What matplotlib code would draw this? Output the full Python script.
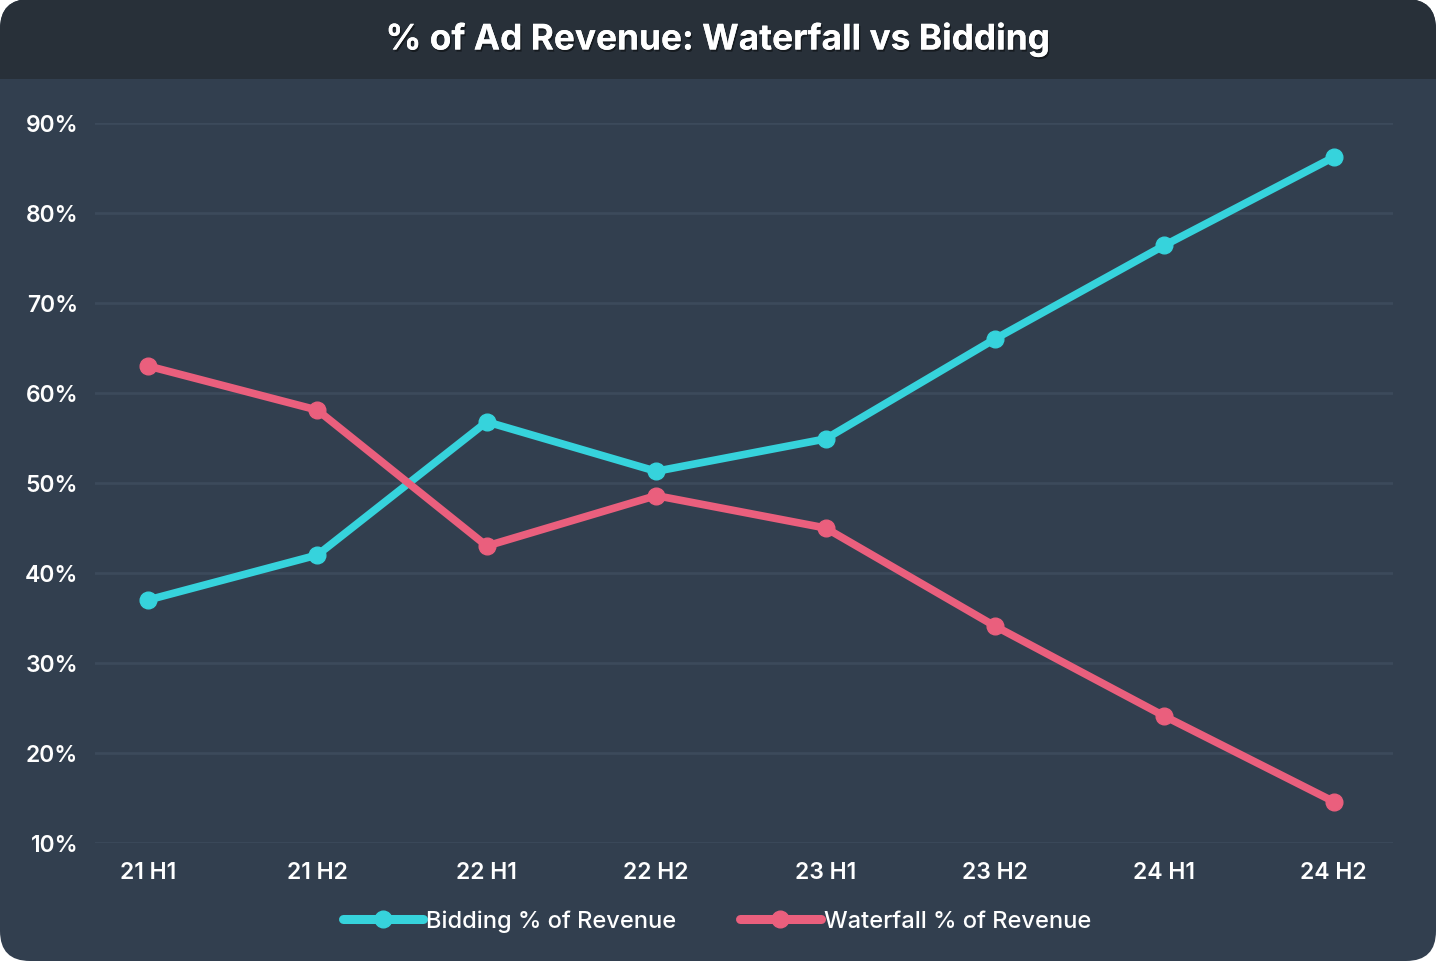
import matplotlib
matplotlib.use("Agg")
import matplotlib.pyplot as plt
from matplotlib.patches import FancyBboxPatch, Rectangle
import matplotlib.patheffects as pe

periods = ["21 H1", "21 H2", "22 H1", "22 H2", "23 H1", "23 H2", "24 H1", "24 H2"]
bidding = [37.0, 42.0, 56.8, 51.3, 54.9, 66.0, 76.4, 86.2]
waterfall = [63.0, 58.1, 43.0, 48.6, 45.0, 34.1, 24.1, 14.6]
yticks = [10, 20, 30, 40, 50, 60, 70, 80, 90]

BODY = "#323f4f"
HEAD = "#283039"
GRID = "#3c4a5b"
CYAN = "#36d3dc"
PINK = "#ea5f7d"

plt.rcParams["font.family"] = ["Inter", "DejaVu Sans"]

W, H = 1436, 962
fig = plt.figure(figsize=(W / 100, H / 100), dpi=100, facecolor="white")

# rounded card background (in inches so corners stay round)
r = 0.3
tr = fig.dpi_scale_trans
fig.patches.append(FancyBboxPatch((0, 0), W / 100, H / 100,
                                  boxstyle=f"round,pad=0,rounding_size={r}",
                                  fc=BODY, ec="none", transform=tr, zorder=-3))
fig.patches.append(FancyBboxPatch((0, (H - 80) / 100), W / 100, 0.8,
                                  boxstyle=f"round,pad=0,rounding_size={r}",
                                  fc=HEAD, ec="none", transform=tr, zorder=-2))
fig.patches.append(Rectangle((0, (H - 80) / 100), W / 100, 0.4,
                             fc=HEAD, ec="none", transform=tr, zorder=-2))

fig.text(0.5, 1 - 40 / H, "% of Ad Revenue: Waterfall vs Bidding", ha="center", va="center",
         color="white", fontsize=25.4, fontweight="bold",
         path_effects=[pe.withSimplePatchShadow(offset=(1, -1.5), shadow_rgbFace="black", alpha=0.45),
                       pe.Normal()])

ax = fig.add_axes([95 / W, (H - 844) / H, (1393 - 95) / W, (844 - 124) / H])
ax.set_facecolor("none")
x = list(range(len(periods)))
ax.plot(x, bidding, color=CYAN, lw=5.5, marker="o", ms=12, solid_capstyle="round",
        label="Bidding % of Revenue", zorder=3)
ax.plot(x, waterfall, color=PINK, lw=5.5, marker="o", ms=12, solid_capstyle="round",
        label="Waterfall % of Revenue", zorder=3)

ax.set_xlim(-0.313, 7.35)
ax.set_ylim(10, 90)
ax.set_yticks(yticks)
ax.set_yticklabels([f"{v}%" for v in yticks])
ax.set_xticks(x)
ax.set_xticklabels(periods)
ax.grid(axis="y", color=GRID, lw=2)
ax.set_axisbelow(True)
for s in ax.spines.values():
    s.set_visible(False)
ax.tick_params(length=0, colors="white", labelsize=16.5)
ax.tick_params(axis="y", pad=12)
ax.tick_params(axis="x", pad=13)
for lab in ax.get_xticklabels() + ax.get_yticklabels():
    lab.set_fontweight("semibold")

leg = fig.legend(loc="center", bbox_to_anchor=(717 / W, 1 - 922 / H), ncol=2, frameon=False,
                 fontsize=17, handlelength=3.4, handletextpad=0.15, columnspacing=2.7,
                 labelcolor="white")
for t in leg.get_texts():
    t.set_fontweight("medium")
for h in leg.legend_handles:
    h.set_linewidth(6.5)

fig.savefig("out.png", dpi=100, facecolor="white")
